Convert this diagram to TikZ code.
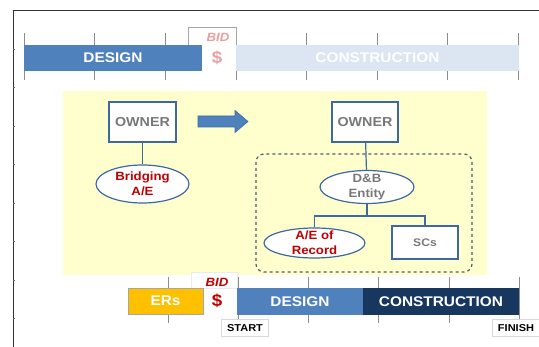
\documentclass[tikz,border=0pt]{standalone}
\usepackage{fontspec}
\setmainfont{Liberation Sans}[FakeStretch=1.1]
\usepackage{tikz}
\usetikzlibrary{arrows, shapes, calc}

\definecolor{barblue}{RGB}{79,129,189}
\definecolor{barpale}{RGB}{220,230,242}
\definecolor{barnavy}{RGB}{23,55,94}
\definecolor{barorange}{RGB}{255,192,0}
\definecolor{panelyellow}{RGB}{255,255,206}
\definecolor{darkred}{RGB}{192,0,0}
\definecolor{fadedred}{RGB}{232,160,160}
\definecolor{boxblue}{RGB}{62,104,160}
\definecolor{textgray}{RGB}{120,120,120}
\definecolor{dashgray}{RGB}{78,92,115}

\tikzset{
	bar/.style={rectangle, inner sep=0pt, minimum height=26pt, text=white, font=\bfseries\fontsize{14}{14}\selectfont},
	orgbox/.style={rectangle, draw=boxblue, line width=1.2pt, fill=white, inner sep=0pt, text=textgray, font=\bfseries\fontsize{13}{14}\selectfont},
	orgoval/.style={ellipse, draw=boxblue, line width=1.2pt, fill=white, inner xsep=0pt, inner ysep=-10pt, align=center, font=\bfseries\fontsize{12}{15}\selectfont},
	orgline/.style={draw=boxblue, line width=1.2pt},
	tag/.style={rectangle, draw=black!15, fill=white, inner sep=0pt, minimum height=17pt, font=\bfseries\fontsize{10}{10}\selectfont},
	tick/.style={draw=black!45, line width=0.6pt}
}

\begin{document}
\begin{tikzpicture}[>=latex, thick, inner sep=0pt, x=1pt, y=-1pt]
			\useasboundingbox (0,0) rectangle (539,347);
			
			% frame
			\draw[black!80, line width=0.8pt] (13,347) -- (13,10) -- (539,10);
			\foreach \y in {49,87.5,126,164.5,203,241.5,280,318.5}
				\draw[black!60, line width=0.5pt] (13,\y) -- (15,\y);
			
			% upper timeline
			\foreach \x in {24,94.6,165.2,235.8,306.4,377,447.6,518.2}
				\draw[tick] (\x,33) -- (\x,80);
			\draw[black!35, line width=0.5pt, fill=white] (188,45) -- (188,27) -- (235.8,27) -- (235.8,45);
			\node[bar, fill=barblue, minimum width=178pt] (design_top) at (113,58) {DESIGN};
			\node[bar, fill=barpale, minimum width=283pt] (constr_top) at (377.5,58) {CONSTRUCTION};
			\node[text=fadedred, font=\bfseries\itshape\fontsize{12}{12}\selectfont] (bid_top) at (218,37) {BID};
			\node[text=fadedred, font=\bfseries\fontsize{17}{17}\selectfont] (cash_top) at (217,58) {\$};
			
			% yellow panel
			\fill[panelyellow] (63,91) rectangle (487,275);
			
			% left chart
			\node[orgbox, minimum width=67pt, minimum height=40pt] (owner_a) at (142.5,122) {OWNER};
			\node[orgoval, text=darkred, minimum width=93pt, minimum height=38pt] (bridging) at (142.5,184) {Bridging\\A/E};
			\draw[orgline] (owner_a) -- (bridging);
			
			% block arrow
			\filldraw[fill=barblue, draw=boxblue, line width=0.6pt] (198,116) -- (235,116) -- (235,110.5) -- (248,121.5) -- (235,132.5) -- (235,127) -- (198,127) -- cycle;
			
			% right chart
			\draw[dashgray, dashed, line width=1.2pt, rounded corners=8pt] (256,154) rectangle (472,272);
			\node[orgbox, minimum width=66pt, minimum height=40pt] (owner_b) at (365,122) {OWNER};
			\node[orgoval, text=textgray, minimum width=94pt, minimum height=33pt] (dbentity) at (367,187) {D\&B\\Entity};
			\node[orgoval, text=darkred, minimum width=101pt, minimum height=30pt] (aerecord) at (314.5,243) {A/E of\\Record};
			\node[orgbox, minimum width=66pt, minimum height=33pt, font=\bfseries\fontsize{11}{12}\selectfont] (scs) at (425,242.5) {SCs};
			\coordinate (split) at (367,216);
			\draw[orgline] (owner_b) -- (dbentity);
			\draw[orgline] (dbentity) -- (split);
			\draw[orgline] (aerecord.north) |- (split) -| (scs.north);
			
			% lower timeline
			\foreach \x in {168,238.2,308.4,378.6,448.8,519}
				\draw[tick] (\x,277) -- (\x,323);
			\node[rectangle, draw=black!8, fill=white, minimum width=46pt, minimum height=16pt] (bid_box) at (214,280) {};
			\node[text=darkred, font=\bfseries\itshape\fontsize{12}{12}\selectfont] (bid_low) at (217,282) {BID};
			\node[text=darkred, font=\bfseries\fontsize{17}{17}\selectfont] (cash_low) at (217,301) {\$};
			\node[bar, draw=black!35, line width=0.8pt, fill=barorange, minimum width=75pt, minimum height=26pt] (ers) at (165.5,301) {ERs};
			\node[bar, fill=barblue, minimum width=126pt, minimum height=27pt] (design_low) at (300,301.5) {DESIGN};
			\node[bar, fill=barnavy, minimum width=156pt, minimum height=27pt] (constr_low) at (441,301.5) {CONSTRUCTION};
			\node[tag, minimum width=47pt] (start) at (245,328) {START};
			\node[tag, minimum width=47pt] (finish) at (516,328) {FINISH};
		\end{tikzpicture}
\end{document}
